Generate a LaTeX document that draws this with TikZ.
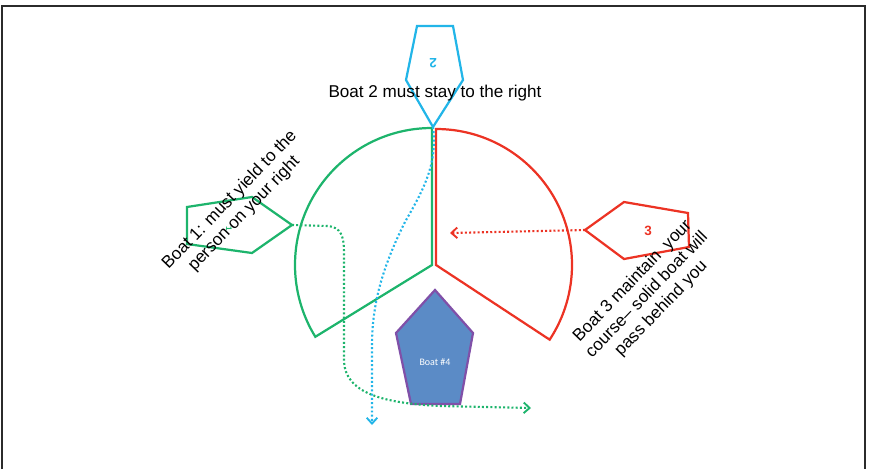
\documentclass[tikz,border=0pt]{standalone}
\usepackage{fontspec}
\setmainfont{Liberation Sans}
\newfontfamily\boatfont{Carlito}
\usetikzlibrary{arrows.meta}

\begin{document}
\begin{tikzpicture}[x=0.03cm, y=-0.03cm, font=\fontsize{14.6}{17}\selectfont]
    % --- Colores ---
    \definecolor{rulegreen}{HTML}{1DB46C}  \definecolor{rulered}{HTML}{EC3324}
    \definecolor{rulecyan}{HTML}{22B5E8}   \definecolor{rulepurple}{HTML}{8050A8}
    \definecolor{boatfill}{HTML}{5B8BC6}   \definecolor{framegray}{HTML}{2B2B2B}

    \tikzset{
        hull/.style={line width=1.9pt, line join=miter},
        trail/.style={line width=1.8pt, dash pattern=on 1.7pt off 1.9pt,
            -{Straight Barb[length=5pt, width=9pt, line width=1.6pt]}},
        rulenote/.style={align=center, text=black}
    }

    \useasboundingbox (0,0) rectangle (869,469);

    % --- Marco ---
    \draw[framegray, line width=2.2pt] (2,469) -- (2,6) -- (865,6) -- (865,469);

    % --- Sectores: verde (ceder) y rojo (mantener rumbo) ---
    \coordinate (ctrG) at (432,265);
    \coordinate (ctrR) at (436,265);
    \draw[rulegreen, hull] (ctrG) -- ++(0,-137)
        arc[start angle=-90, end angle=-211.6, radius=137] -- cycle;
    \draw[rulered, hull] (ctrR) -- ++(0,-136)
        arc[start angle=-90, end angle=33.3, radius=136] -- cycle;

    % --- Boat 2 (arriba, invertido) ---
    \draw[rulecyan, hull] (417,26) -- (453,26) -- (463,80) -- (433,127) -- (406,80) -- cycle;
    \coordinate (b2tip) at (433,127);
    \coordinate (b2end) at (372,425);
    \node[rulecyan, font=\bfseries\fontsize{11.5}{13}\selectfont, rotate=180] (b2num) at (433,63) {2};

    % --- Boat 1 (izquierda) ---
    \draw[rulegreen, hull] (187,207) -- (252,197) -- (292,225) -- (252,253) -- (187,244) -- cycle;
    \coordinate (b1tip) at (292,225);
    \coordinate (b1end) at (531,408);
    \node[rulegreen, font=\bfseries\fontsize{7}{8}\selectfont, rotate=-90] (b1num) at (229,229) {1};

    % --- Boat 3 (derecha) ---
    \draw[rulered, hull] (585,230) -- (624,202) -- (688,213) -- (689,247) -- (624,259) -- cycle;
    \coordinate (b3tip) at (585,230);
    \coordinate (b3end) at (450,233);
    \node[rulered, font=\bfseries\fontsize{11.5}{13}\selectfont] (b3num) at (648,231) {3};

    % --- Boat #4 (solido) ---
    \filldraw[boatfill, draw=rulepurple, hull] (435,290) -- (473,333) -- (460,404) -- (411,404) -- (396,333) -- cycle;
    \node[white, font=\boatfont\fontsize{8.5}{10}\selectfont] (b4name) at (435,362) {Boat \#4};

    % --- Trayectorias punteadas ---
    \draw[rulegreen, trail] (b1tip) -- (328,226) .. controls (341,227) and (344,237) .. (344,252)
        -- (344,362) .. controls (346,392) and (380,403) .. (440,406) -- (b1end);
    \draw[rulecyan, trail] (b2tip) .. controls (438,165) and (422,192) .. (405,222)
        .. controls (385,262) and (372,300) .. (372,345) -- (b2end);
    \draw[rulered, trail] (b3tip) -- (b3end);

    % --- Notas ---
    \node[rulenote] (b2note) at (435,93) {Boat 2 must stay to the right};
    \node[rulenote, rotate=46] (b1note) at (237,207) {Boat 1: must yield to the\\person on your right};
    \node[rulenote, rotate=46] (b3note) at (647,295) {Boat 3 maintain\ \ your\\course– solid boat will\\pass behind you};
\end{tikzpicture}
\end{document}
